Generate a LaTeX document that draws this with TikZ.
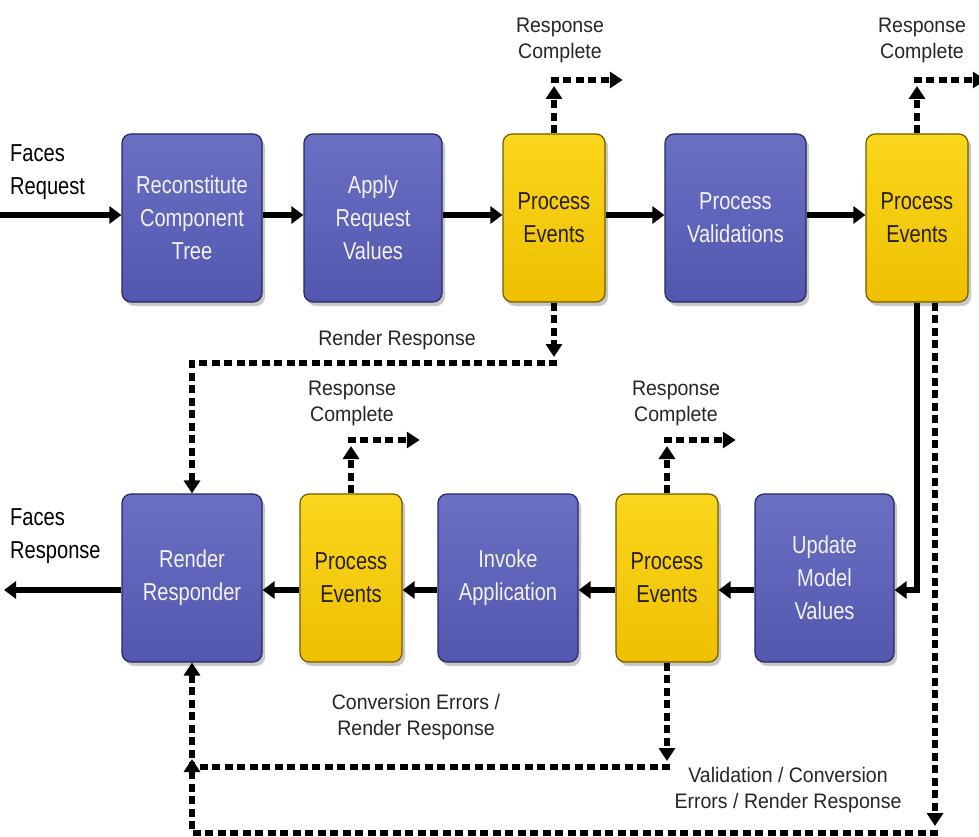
\documentclass[tikz,border=0pt]{standalone}
\usepackage{fontspec}
\setmainfont{Liberation Sans}
\newfontfamily\boxfont{Liberation Sans}[FakeStretch=0.82]
\newfontfamily\notefont{Liberation Sans}[FakeStretch=0.93]
\usetikzlibrary{arrows.meta,shadows}

\definecolor{phaseblue}{RGB}{82,86,174}
\definecolor{phasebluetop}{RGB}{108,112,196}
\definecolor{phaseblueedge}{RGB}{38,40,98}
\definecolor{evyellow}{RGB}{238,192,0}
\definecolor{evyellowtop}{RGB}{250,214,30}
\definecolor{evyellowedge}{RGB}{115,90,0}
\definecolor{evtext}{RGB}{40,32,10}

\tikzset{
  phasebox/.style={rounded corners=9pt, draw=phaseblueedge, line width=1.2pt,
    top color=phasebluetop, bottom color=phaseblue, text=white!95!black,
    align=center, inner sep=0pt, minimum width=140pt, minimum height=168pt,
    font=\boxfont\fontsize{24.5}{33}\selectfont,
    drop shadow={shadow xshift=3pt, shadow yshift=-4pt, opacity=0.3, fill=black!70}},
  eventbox/.style={phasebox, draw=evyellowedge, top color=evyellowtop,
    bottom color=evyellow, text=evtext, minimum width=102pt},
  outerlabel/.style={align=left, anchor=west, inner sep=0pt,
    font=\boxfont\fontsize{24.5}{33}\selectfont},
  note/.style={align=center, inner sep=0pt, text=black!85,
    font=\notefont\fontsize{21}{26}\selectfont},
  flow/.style={line width=5.5pt, -{Triangle[width=17pt,length=12pt]}},
  alt/.style={line width=6.5pt, dash pattern=on 8pt off 4.5pt,
    -{Triangle[width=16pt,length=13pt]}},
}

\begin{document}
\begin{tikzpicture}[x=1pt,y=-1pt]
\useasboundingbox[fill=white] (0,0) rectangle (979,837);

% request-processing lifecycle phases
\node[phasebox] (recon)  at (192,218)   {Reconstitute\\Component\\Tree};
\node[phasebox, minimum width=138pt] (apply) at (373,218) {Apply\\Request\\Values};
\node[eventbox] (pe1)    at (554,218)   {Process\\Events};
\node[phasebox, minimum width=141pt] (valid) at (735.5,218) {Process\\Validations};
\node[eventbox] (pe2)    at (917,218)   {Process\\Events};

\node[phasebox] (render) at (192,578)   {Render\\Responder};
\node[eventbox] (pe4)    at (351,578)   {Process\\Events};
\node[phasebox] (invoke) at (508,578)   {Invoke\\Application};
\node[eventbox] (pe3)    at (667,578)   {Process\\Events};
\node[phasebox, minimum width=139pt] (update) at (824.5,578) {Update\\Model\\Values};

% row levels and free ends
\coordinate (row1) at (0,215);
\coordinate (row2) at (0,590);
\coordinate (reqin) at (0,215);
\coordinate (resout) at (4,590);
\coordinate (upA) at (0,80);
\coordinate (upB) at (0,440);
\coordinate (rrA) at (0,363);
\coordinate (rrB) at (0,767);
\coordinate (rrC) at (0,833);

% outside labels
\node[outerlabel] (reqlbl) at (10,172) {Faces\\Request};
\node[outerlabel] (reslbl) at (10,536) {Faces\\Response};

% normal flow
\draw[flow] (reqin) -- (reqin -| recon.west);
\draw[flow] (recon.east |- row1) -- (apply.west |- row1);
\draw[flow] (apply.east |- row1) -- (pe1.west |- row1);
\draw[flow] (pe1.east |- row1) -- (valid.west |- row1);
\draw[flow] (valid.east |- row1) -- (pe2.west |- row1);
\draw[flow] (pe2.south) -- (pe2.south |- row2) -- (update.east |- row2);
\draw[flow] (update.west |- row2) -- (pe3.east |- row2);
\draw[flow] (pe3.west |- row2) -- (invoke.east |- row2);
\draw[flow] (invoke.west |- row2) -- (pe4.east |- row2);
\draw[flow] (pe4.west |- row2) -- (render.east |- row2);
\draw[flow] (render.west |- row2) -- (resout);

% response complete exits
\draw[alt] (pe1.north) -- ([yshift=-6pt]pe1.north |- upA);
\draw[alt] ([xshift=-3.25pt]pe1.north |- upA) -- ++(72,0);
\draw[alt] (pe2.north) -- ([yshift=-6pt]pe2.north |- upA);
\draw[alt] ([xshift=-3.25pt]pe2.north |- upA) -- ++(72,0);
\draw[alt] (pe4.north) -- ([yshift=-6pt]pe4.north |- upB);
\draw[alt] ([xshift=-3.25pt]pe4.north |- upB) -- ++(72,0);
\draw[alt] (pe3.north) -- ([yshift=-6pt]pe3.north |- upB);
\draw[alt] ([xshift=-3.25pt]pe3.north |- upB) -- ++(72,0);

\node[note] (rc1) at (560,40)  {Response\\Complete};
\node[note] (rc2) at (922,40)  {Response\\Complete};
\node[note] (rc4) at (352,403) {Response\\Complete};
\node[note] (rc3) at (676,403) {Response\\Complete};

% jumps to render response
\draw[alt] (pe1.south) -- ([yshift=6pt]pe1.south |- rrA);
\draw[alt] ([xshift=3.25pt]pe1.south |- rrA) -- (render.north |- rrA) -- (render.north);
\node[note] (rrlbl) at (397,340) {Render Response};

\draw[alt] (pe3.south) -- ([yshift=6pt]pe3.south |- rrB);
\draw[alt] ([xshift=3.25pt]pe3.south |- rrB) -- (render.south |- rrB) -- (render.south);
\node[note] (convlbl) at (416,717) {Conversion Errors /\\Render Response};

\draw[alt] ([xshift=18pt]pe2.south) -- ([xshift=18pt,yshift=7pt]pe2.south |- rrC);
\draw[alt] ([xshift=21.25pt]pe2.south |- rrC) -- (render.south |- rrC) -- ([yshift=8pt]render.south |- rrB);
\node[note] (vallbl) at (788,790) {Validation / Conversion\\Errors / Render Response};
\end{tikzpicture}
\end{document}
